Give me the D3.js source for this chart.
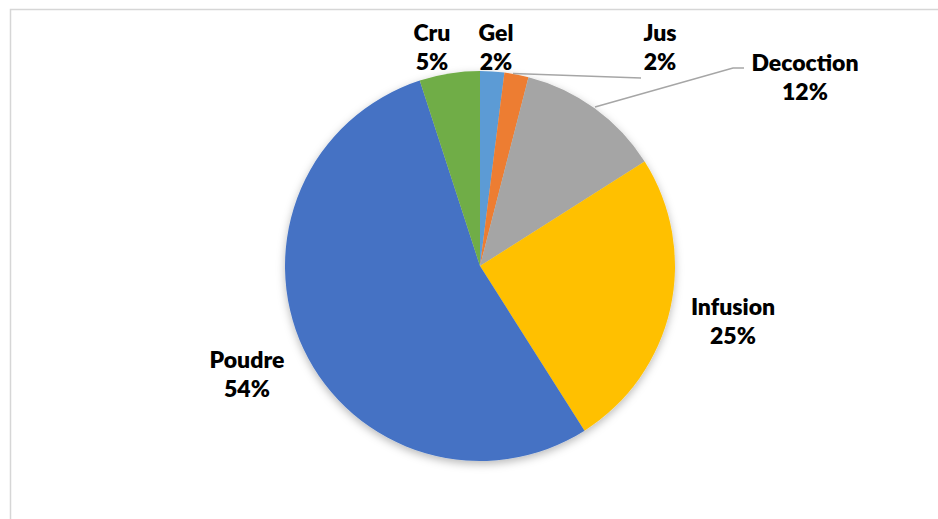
<!DOCTYPE html>
<html>
<head>
<meta charset="utf-8">
<script src="https://cdn.jsdelivr.net/npm/d3@7"></script>
<style>
  html, body { margin: 0; padding: 0; background: #fff; }
  svg { display: block; }
  .lbl { font-family: Lato, "Open Sans", sans-serif; font-weight: 800; font-size: 23px; fill: #000; }
</style>
</head>
<body>
<svg id="chart" width="938" height="519"></svg>
<script>
// Forms of preparation and their shares (%)
const categories = ["Gel", "Jus", "Decoction", "Infusion", "Poudre", "Cru"];
const shares = [2, 2, 12, 25, 54, 5];
const colors = ["#5B9BD5", "#ED7D31", "#A5A5A5", "#FFC000", "#4472C4", "#70AD47"];

const svg = d3.select("#chart");
const W = 938, H = 519;
const cx = 480, cy = 266, R = 195;

// chart area frame
svg.append("rect")
  .attr("x", 10.5).attr("y", 9.5)
  .attr("width", W + 20).attr("height", H + 20)
  .attr("fill", "#fff")
  .attr("stroke", "#d6d6d6").attr("stroke-width", 1.5);

// soft shadow under the pie
const defs = svg.append("defs");
const f = defs.append("filter").attr("id", "shadow")
  .attr("x", "-20%").attr("y", "-20%").attr("width", "140%").attr("height", "140%");
f.append("feDropShadow")
  .attr("dx", 0).attr("dy", 3).attr("stdDeviation", 4)
  .attr("flood-color", "#000").attr("flood-opacity", 0.28);

const data = categories.map((c, i) => ({ name: c, value: shares[i], color: colors[i] }));

const pie = d3.pie().value(d => d.value).sort(null);
const arc = d3.arc().innerRadius(0).outerRadius(R);
const arcs = pie(data);

const g = svg.append("g").attr("transform", `translate(${cx},${cy})`);
g.append("g").attr("filter", "url(#shadow)")
  .selectAll("path")
  .data(arcs)
  .join("path")
  .attr("d", arc)
  .attr("fill", d => d.data.color);

// label placement (centre x, first-line baseline)
const labelPos = {
  Cru: [432, 41],
  Gel: [496, 41],
  Jus: [660, 41],
  Decoction: [805, 71],
  Infusion: [733, 315],
  Poudre: [247, 368]
};

// leader lines for the labels placed outside the pie
const leaders = [
  [[513, 73.5], [641, 78]],
  [[595, 107], [733, 68], [744, 68]]
];
svg.append("g").selectAll("path")
  .data(leaders)
  .join("path")
  .attr("d", d => d3.line()(d))
  .attr("fill", "none")
  .attr("stroke", "#a6a6a6")
  .attr("stroke-width", 1.5);

const lg = svg.append("g");
data.forEach(d => {
  const [x, y] = labelPos[d.name];
  const t = lg.append("text").attr("class", "lbl").attr("text-anchor", "middle");
  t.append("tspan").attr("x", x).attr("y", y).text(d.name);
  t.append("tspan").attr("x", x).attr("y", y + 29).text(d.value + "%");
});
</script>
</body>
</html>
